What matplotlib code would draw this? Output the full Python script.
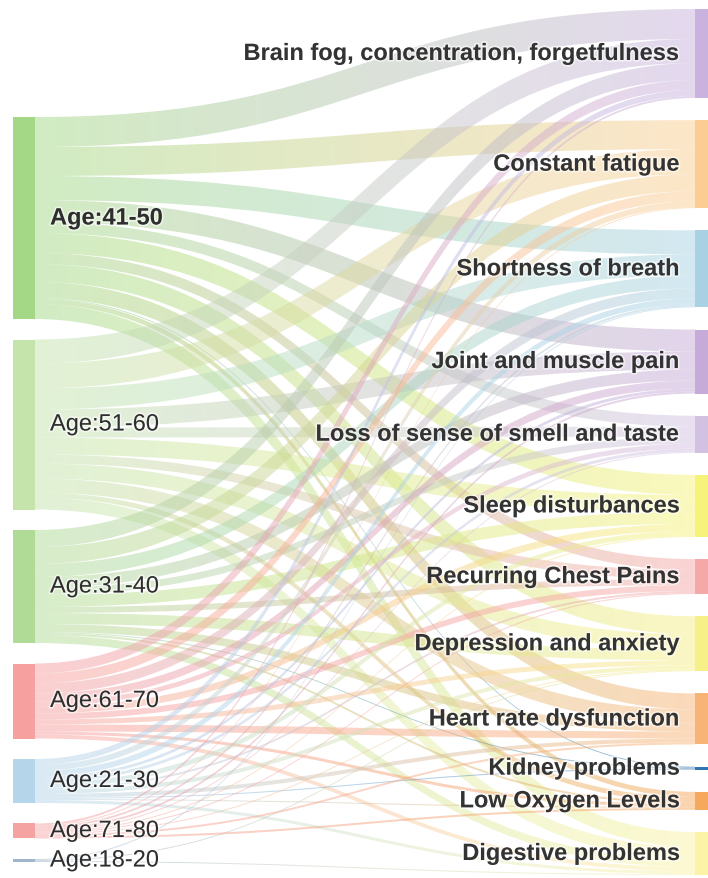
import matplotlib.pyplot as plt
import matplotlib.patheffects as pe
import numpy as np
from matplotlib.path import Path
from matplotlib.patches import PathPatch
from matplotlib.colors import to_rgb

# source nodes (left column), top to bottom
ages = ["Age:41-50", "Age:51-60", "Age:31-40", "Age:61-70",
        "Age:21-30", "Age:71-80", "Age:18-20"]
age_colors = ["#a4d886", "#c4e4ac", "#b0db96", "#f7a0a0",
              "#b5d6ea", "#f5a2a2", "#9fb6cc"]

# target nodes (right column), top to bottom
symptoms = ["Brain fog, concentration, forgetfulness", "Constant fatigue",
            "Shortness of breath", "Joint and muscle pain",
            "Loss of sense of smell and taste", "Sleep disturbances",
            "Recurring Chest Pains", "Depression and anxiety",
            "Heart rate dysfunction", "Kidney problems",
            "Low Oxygen Levels", "Digestive problems"]
symptom_colors = ["#c9b2dd", "#fbcd92", "#a8d2e3", "#c6aad8",
                  "#d3c1e2", "#f6f27a", "#f5a8a8", "#f7ef88",
                  "#f8b477", "#2f77b4", "#f6a85c", "#fbf4a6"]

# respondents per age group and symptom (rows follow ages, columns follow symptoms)
flows = [
    [30, 29, 24, 22, 11, 20, 11, 18, 16, 1, 5, 15],
    [24, 25, 21, 18, 10, 17, 9, 15, 14, 0, 5, 12],
    [17, 17, 13, 11, 7, 12, 6, 11, 8, 1, 2, 8],
    [10, 10, 10, 8, 5, 7, 6, 5, 7, 0, 3, 4],
    [6, 6, 6, 3, 3, 5, 2, 4, 4, 1, 1, 3],
    [2, 1, 2, 2, 1, 1, 1, 1, 2, 0, 2, 0],
    [0, 0, 1, 0, 0, 0, 0, 1, 0, 0, 0, 1],
]

W, H = 708, 879
scale = 1.0           # pixels per respondent
left_span = (118, 863)
right_span = (10, 876)
x_left = (13, 35)
x_right = (695, 717)


def stack(totals, span):
    gap = (span[1] - span[0] - scale * sum(totals)) / (len(totals) - 1)
    tops = []
    y = span[0]
    for t in totals:
        tops.append(y)
        y += scale * t + gap
    return tops


flows = np.array(flows)
src_tot = flows.sum(axis=1)
tgt_tot = flows.sum(axis=0)
src_top = stack(src_tot, left_span)
tgt_top = stack(tgt_tot, right_span)

fig = plt.figure(figsize=(W / 100, H / 100), dpi=100)
ax = fig.add_axes([0, 0, 1, 1])
ax.set_xlim(0, W)
ax.set_ylim(H, 0)
ax.axis("off")

# links: stacked at source in target order, at target in source order
src_off = list(src_top)
tgt_off = list(tgt_top)
x0, x1 = x_left[1], x_right[0]
xm = (x0 + x1) / 2
for i in range(len(ages)):
    for j in range(len(symptoms)):
        v = flows[i, j]
        if v == 0:
            continue
        h = v * scale
        s0 = src_off[i]
        t0 = tgt_off[j]
        src_off[i] += h
        tgt_off[j] += h
        h = max(h, 1.0)
        verts = [(x0, s0), (xm, s0), (xm, t0), (x1, t0),
                 (x1, t0 + h), (xm, t0 + h), (xm, s0 + h), (x0, s0 + h),
                 (x0, s0)]
        codes = [Path.MOVETO, Path.CURVE4, Path.CURVE4, Path.CURVE4,
                 Path.LINETO, Path.CURVE4, Path.CURVE4, Path.CURVE4,
                 Path.CLOSEPOLY]
        patch = PathPatch(Path(verts, codes), facecolor="none",
                          edgecolor="none")
        ax.add_patch(patch)
        c0 = np.array(to_rgb(age_colors[i]))
        c1 = np.array(to_rgb(symptom_colors[j]))
        t = np.linspace(0, 1, 128)[:, None]
        grad = np.ones((1, 128, 4))
        grad[0, :, :3] = c0 * (1 - t) + c1 * t
        grad[0, :, 3] = 0.5
        ytop = min(s0, t0) - 1
        ybot = max(s0, t0) + h + 1
        im = ax.imshow(grad, extent=(x0, x1, ybot, ytop), aspect="auto",
                       interpolation="bilinear", zorder=1)
        im.set_clip_path(patch)

# nodes and labels
shadow = [pe.withStroke(linewidth=2.5, foreground="white", alpha=0.55)]
for i, name in enumerate(ages):
    h = max(src_tot[i] * scale, 1.5)
    ax.add_patch(plt.Rectangle((x_left[0], src_top[i]), x_left[1] - x_left[0],
                               h, color=age_colors[i], lw=0, zorder=2))
    ax.text(50, src_top[i] + h / 2, name, ha="left", va="center",
            fontsize=17, family="Liberation Sans", color="#2e2e2e",
            fontweight="bold" if i == 0 else "normal",
            path_effects=shadow, zorder=3)

for j, name in enumerate(symptoms):
    h = max(tgt_tot[j] * scale, 3)
    ax.add_patch(plt.Rectangle((x_right[0], tgt_top[j]),
                               x_right[1] - x_right[0], h,
                               color=symptom_colors[j], lw=0, zorder=2))
    ax.text(680, tgt_top[j] + h / 2, name, ha="right", va="center",
            fontsize=17, family="Liberation Sans", color="#333333",
            fontweight="bold", path_effects=shadow, zorder=3)

fig.savefig("out.png", dpi=100)
